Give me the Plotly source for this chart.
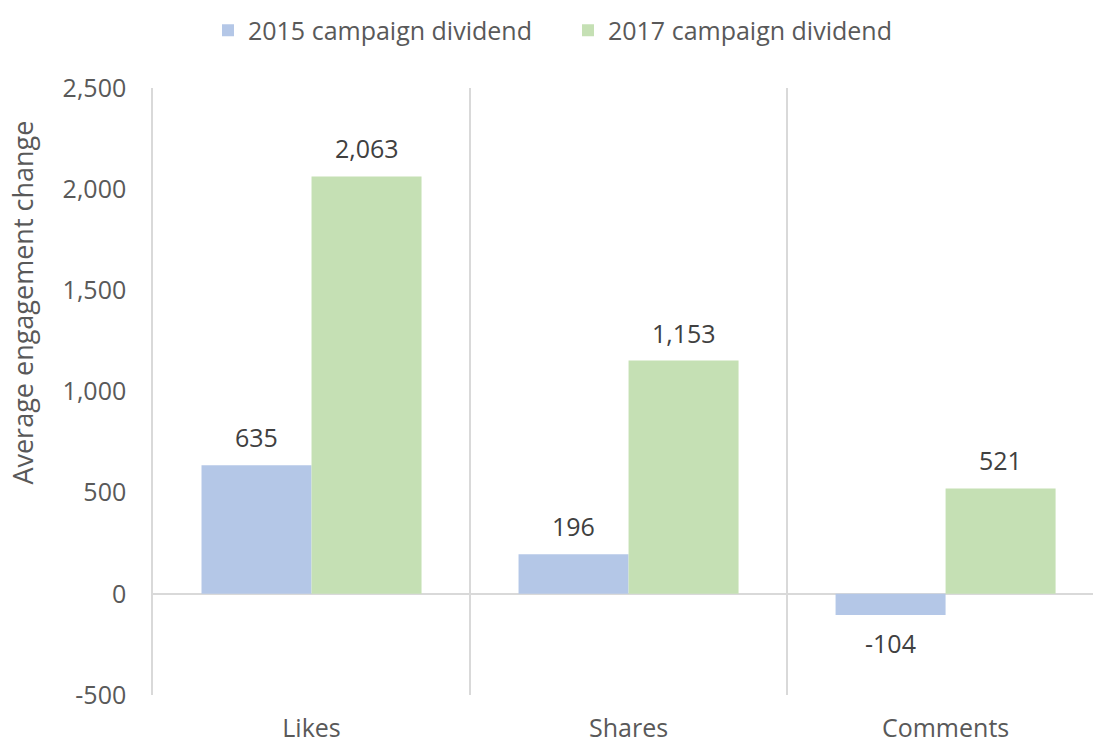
import plotly.graph_objects as go

categories = ["Likes", "Shares", "Comments"]
series_2015 = [635, 196, -104]
series_2017 = [2063, 1153, 521]
name_2015 = "2015 campaign dividend"
name_2017 = "2017 campaign dividend"
y_title = "Average engagement change"
y_ticks = [-500, 0, 500, 1000, 1500, 2000, 2500]
y_ticklabels = ["-500", "0", "500", "1,000", "1,500", "2,000", "2,500"]

blue = "#b4c7e7"
green = "#c5e0b4"
line_grey = "#d9d9d9"
font_family = "Open Sans, sans-serif"
axis_color = "#595959"
label_color = "#404040"
fs = 25

fig = go.Figure()
fig.add_trace(go.Bar(x=categories, y=series_2015, name=name_2015,
                     marker=dict(color=blue, line=dict(width=0))))
fig.add_trace(go.Bar(x=categories, y=series_2017, name=name_2017,
                     marker=dict(color=green, line=dict(width=0))))

# value labels above (or below, for negatives) each bar
half_bar_px = 55
for vals, shift in ((series_2015, -half_bar_px), (series_2017, half_bar_px)):
    for cat, v in zip(categories, vals):
        fig.add_annotation(x=cat, y=v, text=f"{v:,}",
                           showarrow=False, xshift=shift,
                           yshift=28 if v >= 0 else -28,
                           font=dict(family=font_family, size=fs, color=label_color))

# vertical axis title
fig.add_annotation(text=y_title, textangle=-90, showarrow=False,
                   xref="paper", yref="paper", x=-0.139, y=0.647,
                   xanchor="center", yanchor="middle",
                   font=dict(family=font_family, size=27, color=axis_color))

fig.update_layout(
    width=1093, height=743,
    margin=dict(l=153, r=0, t=88, b=48, autoexpand=False),
    plot_bgcolor="white", paper_bgcolor="white",
    barmode="group", bargap=0.306, bargroupgap=0,
    font=dict(family=font_family, size=fs, color=axis_color),
    legend=dict(orientation="h", x=0.0585, xanchor="left", y=0.99, yanchor="top",
                yref="container", font=dict(size=fs, color=axis_color),
                itemwidth=30, entrywidth=315, entrywidthmode="pixels"),
    showlegend=True,
)
fig.update_xaxes(range=[-0.5, 2.465], tickson="boundaries", showgrid=True,
                 gridcolor=line_grey, gridwidth=1.5, ticks="", showline=False,
                 automargin=False,
                 tickfont=dict(size=fs, color=axis_color), ticklabelstandoff=16)
fig.update_yaxes(range=[-500, 2500], tickvals=y_ticks, ticktext=y_ticklabels,
                 showgrid=False, zeroline=True, zerolinecolor=line_grey, zerolinewidth=2,
                 showline=True, linecolor=line_grey, linewidth=1.5, automargin=False,
                 tickfont=dict(size=fs, color=axis_color), ticklabelstandoff=20)

fig.write_html("out.html")
